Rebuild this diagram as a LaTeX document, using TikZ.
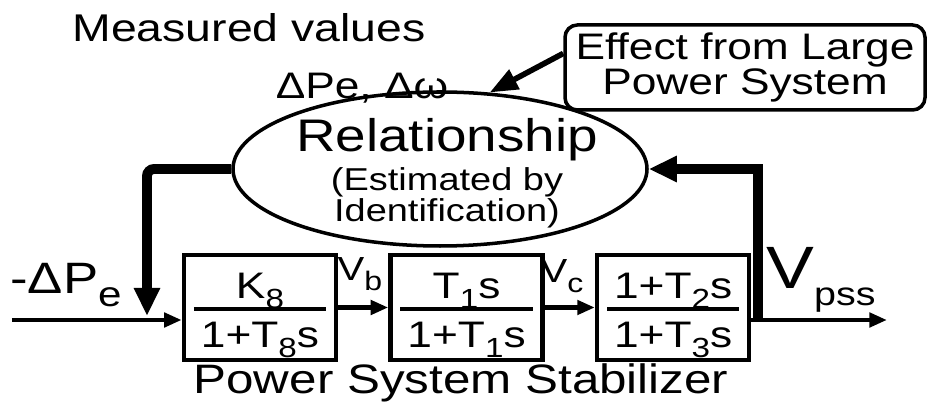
\documentclass[tikz,border=0pt]{standalone}
\usepackage{fontspec}
\setmainfont{Liberation Sans}[FakeStretch=1.2]
\usetikzlibrary{shapes.geometric,arrows.meta,positioning}

% lowered, shrunk index
\newcommand{\dn}[2][0.75]{\raisebox{-0.28em}{\scalebox{#1}{#2}}}
% transfer function inside a block
\newcommand{\gain}[2]{\begin{tabular}{@{\hspace{2pt}}c@{\hspace{2pt}}}\rule{0pt}{12.3pt}#1\\[-1pt]\hline\rule{0pt}{10.2pt}#2\end{tabular}}
\setlength{\arrayrulewidth}{1.1pt}

\begin{document}
\begin{tikzpicture}[
    node distance=0.5cm,
    blk/.style={draw, line width=1.3pt, minimum width=1.52cm, minimum height=1.01cm, inner sep=0pt, font=\fontsize{10.5}{12}\selectfont},
    sig/.style={-{Triangle[length=5pt,width=4pt]}, line width=1.3pt},
    fb/.style={-{Triangle[length=8pt,width=7pt]}, line width=2.8pt},
    lbl/.style={inner sep=0pt}
]
    \useasboundingbox (0,0) rectangle (9.27,-4.05);

    % Identification part
    \node[lbl, font=\fontsize{11}{13}\selectfont] (meas) at (2.49,-0.28) {Measured values};
    \node[lbl, font=\fontsize{10.5}{12}\selectfont] (dvals) at (3.62,-0.88) {ΔPe, Δω};
    \node[draw, ellipse, line width=1pt, minimum width=4.14cm, minimum height=1.54cm, inner sep=0pt] (rel) at (4.40,-1.69) {};
    \node[lbl, font=\fontsize{13}{15}\selectfont] (relname) at (4.47,-1.40) {Relationship};
    \node[lbl, align=center, font=\fontsize{9}{8.8}\selectfont] (relnote) at (4.47,-1.98) {(Estimated by\\Identification)};
    \node[draw, rounded corners=3.5pt, line width=1pt, minimum width=3.6cm, minimum height=0.85cm, inner sep=0pt, align=center, font=\fontsize{10.5}{9.7}\selectfont] (effect) at (7.45,-0.675) {Effect from Large\\Power System};
    \draw[line width=1.6pt, -{Triangle[length=8pt,width=6pt]}] ([yshift=4pt]effect.west) -- (rel.57);

    % Stabilizer blocks
    \node[blk] (k8) at (2.60,-3.075) {\gain{K\dn{8}}{1+T\dn{8}s}};
    \node[blk, right=of k8] (lead1) {\gain{T\dn{1}s}{1+T\dn{1}s}};
    \node[blk, right=of lead1] (lead2) {\gain{1+T\dn{2}s}{1+T\dn{3}s}};
    \node[lbl, font=\fontsize{11.7}{14}\selectfont] (pss) at (4.61,-3.83) {Power System Stabilizer};

    % Signal path
    \coordinate (in) at (0.12,-3.20);
    \coordinate (out) at (8.87,-3.20);
    \coordinate (sum) at (1.47,-3.16);
    \coordinate (tap) at (7.58,-3.22);
    \draw[sig] (in) -- (in -| k8.west);
    \draw[sig] (k8) -- (lead1);
    \draw[sig] (lead1) -- (lead2);
    \draw[sig] (in -| lead2.east) -- (out);

    % Feedback through the ellipse
    \draw[fb] (tap) |- (rel.east);
    \draw[fb, rounded corners=2pt] (rel.west) -| (sum);

    \node[lbl, font=\fontsize{12.5}{15}\selectfont] (dpe) at (0.66,-2.85) {-ΔP\dn[0.8]{e}};
    \node[lbl, font=\fontsize{9.5}{12}\selectfont] (vb) at (3.60,-2.74) {V\dn[0.8]{b}};
    \node[lbl, font=\fontsize{9.5}{12}\selectfont] (vc) at (5.62,-2.76) {V\dn[0.8]{c}};
    \node[lbl, font=\fontsize{17}{19}\selectfont] (vpss) at (8.21,-2.80) {V\dn[0.55]{pss}};
\end{tikzpicture}
\end{document}
